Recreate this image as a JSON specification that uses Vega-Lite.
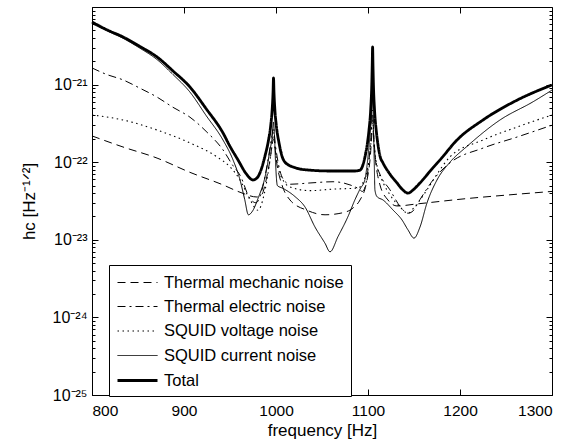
{
  "$schema": "https://vega.github.io/schema/vega-lite/v6.json",
  "width": 460,
  "height": 388,
  "autosize": "none",
  "padding": {"left": 92, "top": 7, "right": 20, "bottom": 45},
  "background": "white",
  "config": {
    "view": {"stroke": "black", "strokeWidth": 1},
    "font": "Liberation Sans",
    "axis": {"grid": false, "domainColor": "black", "tickColor": "black", "labelColor": "black", "titleColor": "black", "labelFont": "Liberation Sans", "titleFont": "Liberation Sans", "titleFontWeight": "normal"},
    "legend": {"orient": "none", "legendX": 17, "legendY": 258, "strokeColor": "black", "fillColor": "white", "padding": 7, "symbolType": "M-2,0H2", "symbolSize": 400, "symbolOffset": 10, "symbolStrokeColor": "black", "labelFontSize": 16.5, "labelFont": "Liberation Sans", "labelColor": "black", "rowPadding": 5, "labelOffset": 15, "cornerRadius": 0, "labelLimit": 400}
  },
  "data": {"values": [
    {"f": 800, "s": "Total", "h": 6.41e-21},
    {"f": 816, "s": "Total", "h": 5.1e-21},
    {"f": 833.7, "s": "Total", "h": 4.11e-21},
    {"f": 852, "s": "Total", "h": 3.1e-21},
    {"f": 870.7, "s": "Total", "h": 2.27e-21},
    {"f": 888, "s": "Total", "h": 1.5e-21},
    {"f": 906.5, "s": "Total", "h": 9.3e-22},
    {"f": 924, "s": "Total", "h": 4.9e-22},
    {"f": 942.4, "s": "Total", "h": 2.38e-22},
    {"f": 950, "s": "Total", "h": 1.6e-22},
    {"f": 958.7, "s": "Total", "h": 1.07e-22},
    {"f": 968, "s": "Total", "h": 7.0e-23},
    {"f": 975, "s": "Total", "h": 5.9e-23},
    {"f": 980, "s": "Total", "h": 6.4e-23},
    {"f": 984.8, "s": "Total", "h": 8.7e-23},
    {"f": 988, "s": "Total", "h": 1.2e-22},
    {"f": 991.3, "s": "Total", "h": 1.77e-22},
    {"f": 994.3, "s": "Total", "h": 3.0e-22},
    {"f": 995.8, "s": "Total", "h": 4.7e-22},
    {"f": 996.8, "s": "Total", "h": 8.0e-22},
    {"f": 997.3, "s": "Total", "h": 1.22e-21},
    {"f": 997.8, "s": "Total", "h": 8.0e-22},
    {"f": 998.8, "s": "Total", "h": 4.7e-22},
    {"f": 1000.3, "s": "Total", "h": 3.0e-22},
    {"f": 1003.3, "s": "Total", "h": 1.77e-22},
    {"f": 1006.5, "s": "Total", "h": 1.2e-22},
    {"f": 1009.8, "s": "Total", "h": 1.0e-22},
    {"f": 1020.7, "s": "Total", "h": 8.5e-23},
    {"f": 1031.5, "s": "Total", "h": 8.0e-23},
    {"f": 1060, "s": "Total", "h": 7.7e-23},
    {"f": 1085.9, "s": "Total", "h": 7.7e-23},
    {"f": 1091.3, "s": "Total", "h": 7.9e-23},
    {"f": 1096.7, "s": "Total", "h": 1.17e-22},
    {"f": 1099.5, "s": "Total", "h": 1.8e-22},
    {"f": 1101.1, "s": "Total", "h": 2.6e-22},
    {"f": 1102.9, "s": "Total", "h": 4.7e-22},
    {"f": 1104.1, "s": "Total", "h": 1.0e-21},
    {"f": 1104.6, "s": "Total", "h": 1.8e-21},
    {"f": 1105, "s": "Total", "h": 3.05e-21},
    {"f": 1105.4, "s": "Total", "h": 1.8e-21},
    {"f": 1105.9, "s": "Total", "h": 1.0e-21},
    {"f": 1107.1, "s": "Total", "h": 4.7e-22},
    {"f": 1108.9, "s": "Total", "h": 2.6e-22},
    {"f": 1110.5, "s": "Total", "h": 1.8e-22},
    {"f": 1113.3, "s": "Total", "h": 1.17e-22},
    {"f": 1116.3, "s": "Total", "h": 9.8e-23},
    {"f": 1123.9, "s": "Total", "h": 7.0e-23},
    {"f": 1131.5, "s": "Total", "h": 5.4e-23},
    {"f": 1137, "s": "Total", "h": 4.5e-23},
    {"f": 1143.5, "s": "Total", "h": 4.0e-23},
    {"f": 1150, "s": "Total", "h": 4.5e-23},
    {"f": 1156.5, "s": "Total", "h": 5.4e-23},
    {"f": 1170.7, "s": "Total", "h": 8.5e-23},
    {"f": 1178.3, "s": "Total", "h": 1.07e-22},
    {"f": 1196.7, "s": "Total", "h": 1.93e-22},
    {"f": 1225, "s": "Total", "h": 3.5e-22},
    {"f": 1262, "s": "Total", "h": 6.3e-22},
    {"f": 1300, "s": "Total", "h": 9.9e-22},

    {"f": 800, "s": "SQUID current noise", "h": 6.1e-21},
    {"f": 816, "s": "SQUID current noise", "h": 4.95e-21},
    {"f": 833.7, "s": "SQUID current noise", "h": 3.95e-21},
    {"f": 852, "s": "SQUID current noise", "h": 2.95e-21},
    {"f": 870.7, "s": "SQUID current noise", "h": 2.1e-21},
    {"f": 888, "s": "SQUID current noise", "h": 1.35e-21},
    {"f": 906.5, "s": "SQUID current noise", "h": 8.0e-22},
    {"f": 924, "s": "SQUID current noise", "h": 4.0e-22},
    {"f": 942.4, "s": "SQUID current noise", "h": 1.93e-22},
    {"f": 953.3, "s": "SQUID current noise", "h": 1.07e-22},
    {"f": 960.9, "s": "SQUID current noise", "h": 5.9e-23},
    {"f": 966, "s": "SQUID current noise", "h": 3.3e-23},
    {"f": 970, "s": "SQUID current noise", "h": 2.1e-23},
    {"f": 975, "s": "SQUID current noise", "h": 2.4e-23},
    {"f": 980.4, "s": "SQUID current noise", "h": 3.4e-23},
    {"f": 988, "s": "SQUID current noise", "h": 6.4e-23},
    {"f": 993.5, "s": "SQUID current noise", "h": 1.44e-22},
    {"f": 995.8, "s": "SQUID current noise", "h": 2.1e-22},
    {"f": 997.3, "s": "SQUID current noise", "h": 3.3e-22},
    {"f": 998.5, "s": "SQUID current noise", "h": 2.0e-22},
    {"f": 999.5, "s": "SQUID current noise", "h": 1.0e-22},
    {"f": 1001.5, "s": "SQUID current noise", "h": 5.0e-23},
    {"f": 1007.6, "s": "SQUID current noise", "h": 4.6e-23},
    {"f": 1020.7, "s": "SQUID current noise", "h": 3.6e-23},
    {"f": 1031.5, "s": "SQUID current noise", "h": 2.65e-23},
    {"f": 1042.4, "s": "SQUID current noise", "h": 1.46e-23},
    {"f": 1053.3, "s": "SQUID current noise", "h": 9.0e-24},
    {"f": 1058.7, "s": "SQUID current noise", "h": 7.0e-24},
    {"f": 1067.4, "s": "SQUID current noise", "h": 1.1e-23},
    {"f": 1078.3, "s": "SQUID current noise", "h": 2.0e-23},
    {"f": 1085.9, "s": "SQUID current noise", "h": 3.3e-23},
    {"f": 1091.3, "s": "SQUID current noise", "h": 4.5e-23},
    {"f": 1096.7, "s": "SQUID current noise", "h": 6.0e-23},
    {"f": 1098.9, "s": "SQUID current noise", "h": 9.0e-23},
    {"f": 1101.5, "s": "SQUID current noise", "h": 1.8e-22},
    {"f": 1103.5, "s": "SQUID current noise", "h": 3.5e-22},
    {"f": 1105, "s": "SQUID current noise", "h": 6.9e-22},
    {"f": 1106, "s": "SQUID current noise", "h": 2.6e-22},
    {"f": 1106.8, "s": "SQUID current noise", "h": 1.0e-22},
    {"f": 1107.5, "s": "SQUID current noise", "h": 4.4e-23},
    {"f": 1109.8, "s": "SQUID current noise", "h": 3.6e-23},
    {"f": 1116.3, "s": "SQUID current noise", "h": 3.26e-23},
    {"f": 1127.2, "s": "SQUID current noise", "h": 2.42e-23},
    {"f": 1137, "s": "SQUID current noise", "h": 1.8e-23},
    {"f": 1143.5, "s": "SQUID current noise", "h": 1.34e-23},
    {"f": 1150, "s": "SQUID current noise", "h": 1.05e-23},
    {"f": 1156.5, "s": "SQUID current noise", "h": 1.46e-23},
    {"f": 1164.1, "s": "SQUID current noise", "h": 2.98e-23},
    {"f": 1175, "s": "SQUID current noise", "h": 5.9e-23},
    {"f": 1189.1, "s": "SQUID current noise", "h": 1.0e-22},
    {"f": 1207.6, "s": "SQUID current noise", "h": 1.6e-22},
    {"f": 1243.5, "s": "SQUID current noise", "h": 3.5e-22},
    {"f": 1279.3, "s": "SQUID current noise", "h": 6.0e-22},
    {"f": 1300, "s": "SQUID current noise", "h": 8.5e-22},

    {"f": 800, "s": "Thermal electric noise", "h": 1.64e-21},
    {"f": 816, "s": "Thermal electric noise", "h": 1.35e-21},
    {"f": 833.7, "s": "Thermal electric noise", "h": 1.15e-21},
    {"f": 852, "s": "Thermal electric noise", "h": 9.0e-22},
    {"f": 870.7, "s": "Thermal electric noise", "h": 6.9e-22},
    {"f": 888, "s": "Thermal electric noise", "h": 5.1e-22},
    {"f": 906.5, "s": "Thermal electric noise", "h": 3.8e-22},
    {"f": 924, "s": "Thermal electric noise", "h": 2.5e-22},
    {"f": 942.4, "s": "Thermal electric noise", "h": 1.44e-22},
    {"f": 953.3, "s": "Thermal electric noise", "h": 9.0e-23},
    {"f": 960.9, "s": "Thermal electric noise", "h": 6.8e-23},
    {"f": 971.7, "s": "Thermal electric noise", "h": 3.4e-23},
    {"f": 978.3, "s": "Thermal electric noise", "h": 3.0e-23},
    {"f": 984.8, "s": "Thermal electric noise", "h": 4.4e-23},
    {"f": 991.3, "s": "Thermal electric noise", "h": 1.07e-22},
    {"f": 995, "s": "Thermal electric noise", "h": 2.0e-22},
    {"f": 997.3, "s": "Thermal electric noise", "h": 2.8e-22},
    {"f": 999, "s": "Thermal electric noise", "h": 1.8e-22},
    {"f": 1001.1, "s": "Thermal electric noise", "h": 1.2e-22},
    {"f": 1004, "s": "Thermal electric noise", "h": 8.0e-23},
    {"f": 1008, "s": "Thermal electric noise", "h": 6.0e-23},
    {"f": 1015.2, "s": "Thermal electric noise", "h": 5.2e-23},
    {"f": 1037, "s": "Thermal electric noise", "h": 5.4e-23},
    {"f": 1062, "s": "Thermal electric noise", "h": 5.6e-23},
    {"f": 1080.4, "s": "Thermal electric noise", "h": 5.1e-23},
    {"f": 1089.1, "s": "Thermal electric noise", "h": 4.6e-23},
    {"f": 1094, "s": "Thermal electric noise", "h": 4.2e-23},
    {"f": 1098, "s": "Thermal electric noise", "h": 5.5e-23},
    {"f": 1101.1, "s": "Thermal electric noise", "h": 1.07e-22},
    {"f": 1103.5, "s": "Thermal electric noise", "h": 2.3e-22},
    {"f": 1105, "s": "Thermal electric noise", "h": 4.7e-22},
    {"f": 1106.3, "s": "Thermal electric noise", "h": 2.0e-22},
    {"f": 1108.7, "s": "Thermal electric noise", "h": 1.0e-22},
    {"f": 1113, "s": "Thermal electric noise", "h": 7.0e-23},
    {"f": 1123.9, "s": "Thermal electric noise", "h": 4.4e-23},
    {"f": 1134.8, "s": "Thermal electric noise", "h": 2.7e-23},
    {"f": 1143.5, "s": "Thermal electric noise", "h": 2.2e-23},
    {"f": 1148, "s": "Thermal electric noise", "h": 2.3e-23},
    {"f": 1156.5, "s": "Thermal electric noise", "h": 3.3e-23},
    {"f": 1170.7, "s": "Thermal electric noise", "h": 5.9e-23},
    {"f": 1189.1, "s": "Thermal electric noise", "h": 9.8e-23},
    {"f": 1225, "s": "Thermal electric noise", "h": 1.52e-22},
    {"f": 1262, "s": "Thermal electric noise", "h": 2.11e-22},
    {"f": 1300, "s": "Thermal electric noise", "h": 3.0e-22},

    {"f": 800, "s": "SQUID voltage noise", "h": 4.06e-22},
    {"f": 833.7, "s": "SQUID voltage noise", "h": 3.5e-22},
    {"f": 870.7, "s": "SQUID voltage noise", "h": 2.6e-22},
    {"f": 906.5, "s": "SQUID voltage noise", "h": 1.77e-22},
    {"f": 935.9, "s": "SQUID voltage noise", "h": 1.17e-22},
    {"f": 950, "s": "SQUID voltage noise", "h": 8.7e-23},
    {"f": 960.9, "s": "SQUID voltage noise", "h": 5.9e-23},
    {"f": 971.7, "s": "SQUID voltage noise", "h": 3.3e-23},
    {"f": 980.4, "s": "SQUID voltage noise", "h": 2.4e-23},
    {"f": 987, "s": "SQUID voltage noise", "h": 3.8e-23},
    {"f": 992.4, "s": "SQUID voltage noise", "h": 8.7e-23},
    {"f": 995.5, "s": "SQUID voltage noise", "h": 1.6e-22},
    {"f": 997.3, "s": "SQUID voltage noise", "h": 2.4e-22},
    {"f": 999, "s": "SQUID voltage noise", "h": 1.5e-22},
    {"f": 1002.2, "s": "SQUID voltage noise", "h": 8.7e-23},
    {"f": 1007.6, "s": "SQUID voltage noise", "h": 5.9e-23},
    {"f": 1015.2, "s": "SQUID voltage noise", "h": 4.8e-23},
    {"f": 1037, "s": "SQUID voltage noise", "h": 4.3e-23},
    {"f": 1062, "s": "SQUID voltage noise", "h": 4.5e-23},
    {"f": 1089.1, "s": "SQUID voltage noise", "h": 4.65e-23},
    {"f": 1095.7, "s": "SQUID voltage noise", "h": 5.9e-23},
    {"f": 1101.1, "s": "SQUID voltage noise", "h": 1.07e-22},
    {"f": 1103.5, "s": "SQUID voltage noise", "h": 2.0e-22},
    {"f": 1105, "s": "SQUID voltage noise", "h": 3.5e-22},
    {"f": 1106.5, "s": "SQUID voltage noise", "h": 1.8e-22},
    {"f": 1109.8, "s": "SQUID voltage noise", "h": 9.0e-23},
    {"f": 1115.2, "s": "SQUID voltage noise", "h": 5.9e-23},
    {"f": 1123.9, "s": "SQUID voltage noise", "h": 3.8e-23},
    {"f": 1134.8, "s": "SQUID voltage noise", "h": 2.65e-23},
    {"f": 1143.5, "s": "SQUID voltage noise", "h": 2.2e-23},
    {"f": 1150, "s": "SQUID voltage noise", "h": 2.6e-23},
    {"f": 1164.1, "s": "SQUID voltage noise", "h": 4.4e-23},
    {"f": 1175, "s": "SQUID voltage noise", "h": 7.0e-23},
    {"f": 1189.1, "s": "SQUID voltage noise", "h": 1.17e-22},
    {"f": 1225, "s": "SQUID voltage noise", "h": 1.93e-22},
    {"f": 1262, "s": "SQUID voltage noise", "h": 2.84e-22},
    {"f": 1300, "s": "SQUID voltage noise", "h": 4.06e-22},

    {"f": 800, "s": "Thermal mechanic noise", "h": 2.18e-22},
    {"f": 833.7, "s": "Thermal mechanic noise", "h": 1.57e-22},
    {"f": 870.7, "s": "Thermal mechanic noise", "h": 1.13e-22},
    {"f": 906.5, "s": "Thermal mechanic noise", "h": 7.4e-23},
    {"f": 942.4, "s": "Thermal mechanic noise", "h": 5.1e-23},
    {"f": 960.9, "s": "Thermal mechanic noise", "h": 4.1e-23},
    {"f": 979.3, "s": "Thermal mechanic noise", "h": 3.56e-23},
    {"f": 985, "s": "Thermal mechanic noise", "h": 3.9e-23},
    {"f": 988, "s": "Thermal mechanic noise", "h": 5.1e-23},
    {"f": 993.5, "s": "Thermal mechanic noise", "h": 1.07e-22},
    {"f": 997.3, "s": "Thermal mechanic noise", "h": 2.0e-22},
    {"f": 1001.1, "s": "Thermal mechanic noise", "h": 9.2e-23},
    {"f": 1006.5, "s": "Thermal mechanic noise", "h": 5.1e-23},
    {"f": 1015.2, "s": "Thermal mechanic noise", "h": 3.26e-23},
    {"f": 1033.7, "s": "Thermal mechanic noise", "h": 2.4e-23},
    {"f": 1053.3, "s": "Thermal mechanic noise", "h": 2.1e-23},
    {"f": 1071.7, "s": "Thermal mechanic noise", "h": 2.22e-23},
    {"f": 1083.7, "s": "Thermal mechanic noise", "h": 2.57e-23},
    {"f": 1091.3, "s": "Thermal mechanic noise", "h": 3.26e-23},
    {"f": 1097.8, "s": "Thermal mechanic noise", "h": 5.1e-23},
    {"f": 1102.2, "s": "Thermal mechanic noise", "h": 1.07e-22},
    {"f": 1105, "s": "Thermal mechanic noise", "h": 2.6e-22},
    {"f": 1108.7, "s": "Thermal mechanic noise", "h": 9.2e-23},
    {"f": 1113, "s": "Thermal mechanic noise", "h": 5.1e-23},
    {"f": 1121.7, "s": "Thermal mechanic noise", "h": 3.26e-23},
    {"f": 1131.5, "s": "Thermal mechanic noise", "h": 2.73e-23},
    {"f": 1153.3, "s": "Thermal mechanic noise", "h": 2.9e-23},
    {"f": 1207.6, "s": "Thermal mechanic noise", "h": 3.4e-23},
    {"f": 1254.3, "s": "Thermal mechanic noise", "h": 3.8e-23},
    {"f": 1300, "s": "Thermal mechanic noise", "h": 4.2e-23}
  ]},
  "resolve": {"axis": {"x": "independent", "y": "independent"}},
  "layer": [
    {
      "mark": {"type": "line", "color": "black", "strokeCap": "butt", "interpolate": "monotone"},
      "encoding": {
        "x": {"field": "f", "type": "quantitative",
          "scale": {"domain": [800, 1300], "nice": false, "zero": false},
          "axis": {"title": "frequency [Hz]", "format": "d", "values": [800, 900, 1000, 1100, 1200, 1300], "tickSize": -6, "labelPadding": 14, "labelFontSize": 15.5, "titleFontSize": 17, "titlePadding": 4}},
        "y": {"field": "h", "type": "quantitative",
          "scale": {"type": "log", "domain": [1e-25, 1e-20], "nice": false},
          "axis": {"title": "h\u1d04 [Hz\u207b\u00b9\u141f\u00b2]",
            "values": [1e-25,2e-25,3e-25,4e-25,5e-25,6e-25,7e-25,8e-25,9e-25,1e-24,2e-24,3e-24,4e-24,5e-24,6e-24,7e-24,8e-24,9e-24,1e-23,2e-23,3e-23,4e-23,5e-23,6e-23,7e-23,8e-23,9e-23,1e-22,2e-22,3e-22,4e-22,5e-22,6e-22,7e-22,8e-22,9e-22,1e-21,2e-21,3e-21,4e-21,5e-21,6e-21,7e-21,8e-21,9e-21],
            "labelExpr": "abs(log(datum.value)/LN10 - round(log(datum.value)/LN10)) > 0.01 ? '' : '10\u207b\u00b2' + ['\u2070','\u00b9','\u00b2','\u00b3','\u2074','\u2075','\u2076'][(-round(log(datum.value)/LN10)) - 20]",
            "tickSize": {"condition": {"test": "abs(log(datum.value)/LN10 - round(log(datum.value)/LN10)) < 0.01", "value": -6}, "value": -3},
            "labelPadding": 11, "labelFontSize": 16, "titleFontSize": 17, "titlePadding": 14, "labelOverlap": false, "labelFlush": false}},
        "strokeDash": {"field": "s", "type": "nominal",
          "scale": {"domain": ["Thermal mechanic noise", "Thermal electric noise", "SQUID voltage noise", "SQUID current noise", "Total"],
            "range": [[8, 5], [8, 4, 2, 4], [1.5, 3.5], [1, 0], [1, 0]]},
          "legend": {"title": null}},
        "strokeWidth": {"field": "s", "type": "nominal",
          "scale": {"type": "ordinal", "domain": ["Thermal mechanic noise", "Thermal electric noise", "SQUID voltage noise", "SQUID current noise", "Total"],
            "range": [1, 1, 1.1, 1, 2.8]},
          "legend": {"title": null}}
      }
    },
    {
      "mark": {"type": "line", "strokeOpacity": 0},
      "encoding": {
        "x": {"field": "f", "type": "quantitative",
          "axis": {"orient": "top", "title": null, "labels": false, "domain": false, "values": [800, 900, 1000, 1100, 1200, 1300], "tickSize": -6}},
        "y": {"field": "h", "type": "quantitative",
          "axis": {"orient": "right", "title": null, "labels": false, "domain": false,
            "values": [1e-25,2e-25,3e-25,4e-25,5e-25,6e-25,7e-25,8e-25,9e-25,1e-24,2e-24,3e-24,4e-24,5e-24,6e-24,7e-24,8e-24,9e-24,1e-23,2e-23,3e-23,4e-23,5e-23,6e-23,7e-23,8e-23,9e-23,1e-22,2e-22,3e-22,4e-22,5e-22,6e-22,7e-22,8e-22,9e-22,1e-21,2e-21,3e-21,4e-21,5e-21,6e-21,7e-21,8e-21,9e-21],
            "tickSize": {"condition": {"test": "abs(log(datum.value)/LN10 - round(log(datum.value)/LN10)) < 0.01", "value": -6}, "value": -3}}},
        "detail": {"field": "s", "type": "nominal"}
      }
    }
  ]
}
